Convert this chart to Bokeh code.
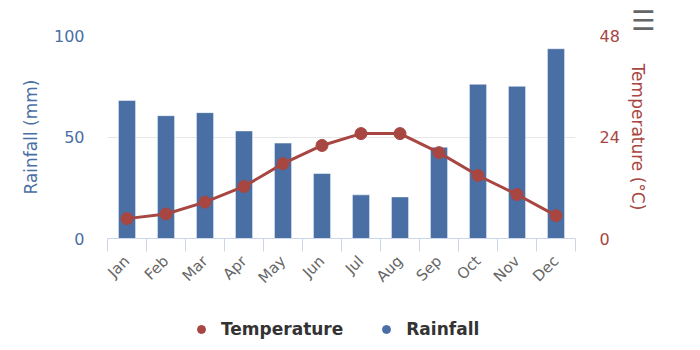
import numpy as np
from bokeh.plotting import figure
from bokeh.layouts import column
from bokeh.models import (Range1d, LinearAxis, FixedTicker, Legend, LegendItem,
                          Title, ColumnDataSource)
from bokeh.embed import file_html
from bokeh.resources import INLINE

months = ["Jan", "Feb", "Mar", "Apr", "May", "Jun",
          "Jul", "Aug", "Sep", "Oct", "Nov", "Dec"]
rainfall = [68.0, 60.5, 62.0, 53.0, 47.0, 32.0, 21.5, 20.5, 45.0, 76.0, 75.0, 93.5]
temperature = [4.7, 5.8, 8.6, 12.3, 17.7, 22.0, 24.8, 24.8, 20.3, 14.9, 10.4, 5.4]
rain_ticks = [0, 50, 100]
temp_ticks = [0, 24, 48]

BLUE = "#4a6fa5"
RED = "#a84642"
FONT = "DejaVu Sans"

x = np.arange(len(months)) + 0.5
src = ColumnDataSource(dict(x=x, rain=rainfall, temp=temperature))

p = figure(frame_width=468, frame_height=203, output_backend="svg", toolbar_location=None,
           x_range=Range1d(0, len(months)), y_range=Range1d(0, 100),
           min_border_left=107, min_border_right=125, min_border_top=35,
           min_border_bottom=50)
p.extra_y_ranges = {"temp": Range1d(0, 48)}
p.outline_line_color = None
p.background_fill_color = "white"
p.border_fill_color = "white"

# grid
p.xgrid.visible = False
p.ygrid.ticker = FixedTicker(ticks=rain_ticks)
p.ygrid.grid_line_color = "#e6e6e6"
p.ygrid.grid_line_width = 1

# bars
p.vbar(x="x", top="rain", width=0.44, source=src, fill_color=BLUE,
       line_color="white", line_width=0.5)
# temperature line
p.line(x="x", y="temp", source=src, y_range_name="temp", line_color=RED, line_width=3)
p.scatter(x="x", y="temp", source=src, y_range_name="temp", size=12,
          fill_color=RED, line_color=RED)

# x axis
xa = p.xaxis[0]
xa.ticker = FixedTicker(ticks=list(x), minor_ticks=list(range(len(months) + 1)))
xa.major_label_overrides = {float(v): m for v, m in zip(x, months)}
xa.major_tick_out = 0
xa.major_tick_in = 0
xa.minor_tick_out = 13
xa.minor_tick_in = 0
xa.minor_tick_line_color = "#ccd6eb"
xa.axis_line_color = "#ccd6eb"
xa.major_label_orientation = np.pi / 4
xa.major_label_text_color = "#666666"
xa.major_label_text_font = FONT
xa.major_label_text_font_size = "15px"
xa.major_label_standoff = 7

# left axis
ya = p.yaxis[0]
ya.ticker = FixedTicker(ticks=rain_ticks)
ya.axis_line_color = None
ya.major_tick_line_color = None
ya.minor_tick_line_color = None
ya.major_label_standoff = 17
ya.major_label_text_color = BLUE
ya.major_label_text_font = FONT
ya.major_label_text_font_size = "16px"
ya.axis_label = "Rainfall (mm)"
ya.axis_label_text_color = BLUE
ya.axis_label_text_font = FONT
ya.axis_label_text_font_size = "17px"
ya.axis_label_text_font_style = "normal"
ya.axis_label_standoff = 10

# right axis
ra = LinearAxis(y_range_name="temp", ticker=FixedTicker(ticks=temp_ticks))
ra.axis_line_color = None
ra.major_tick_line_color = None
ra.minor_tick_line_color = None
ra.major_label_standoff = 18
ra.major_label_text_color = RED
ra.major_label_text_font = FONT
ra.major_label_text_font_size = "16px"
ra.axis_label = "Temperature (°C)"
ra.axis_label_text_color = RED
ra.axis_label_text_font = FONT
ra.axis_label_text_font_size = "17px"
ra.axis_label_text_font_style = "normal"
ra.axis_label_standoff = 5
p.add_layout(ra, "right")

# menu icon
p.add_layout(Title(text="☰", align="right", text_color="#666666",
                   text_font=FONT, text_font_size="27px", text_font_style="bold",
                   text_line_height=0.8, offset=-80, standoff=0), "above")

# legend in a strip below the chart (frame aligned with the chart's frame)
lg = figure(width=700, height=57, output_backend="svg", toolbar_location=None,
            x_range=Range1d(0, 1), y_range=Range1d(0, 1),
            x_axis_type=None, y_axis_type=None, min_border=0)
lg.outline_line_color = None
lg.grid.visible = False
# legend-only glyph holders, kept outside the visible range
r_t = lg.scatter(x=[-1], y=[-1], size=10, fill_color=RED, line_color=RED)
r_r = lg.scatter(x=[-1], y=[-1], size=18, fill_color=BLUE, line_color=BLUE)
legend = Legend(items=[LegendItem(label="Temperature", renderers=[r_t], index=0),
                       LegendItem(label="Rainfall", renderers=[r_r], index=0)],
                orientation="horizontal", location=(84, 14),
                label_text_font=FONT, label_text_font_size="17px",
                label_text_font_style="bold", label_text_color="#333333",
                glyph_width=20, glyph_height=20, label_standoff=10, spacing=33,
                border_line_color=None, background_fill_alpha=0,
                margin=0, padding=0)
lg.add_layout(legend, "center")

open("out.html", "w").write(file_html(column(p, lg, spacing=0), INLINE))
